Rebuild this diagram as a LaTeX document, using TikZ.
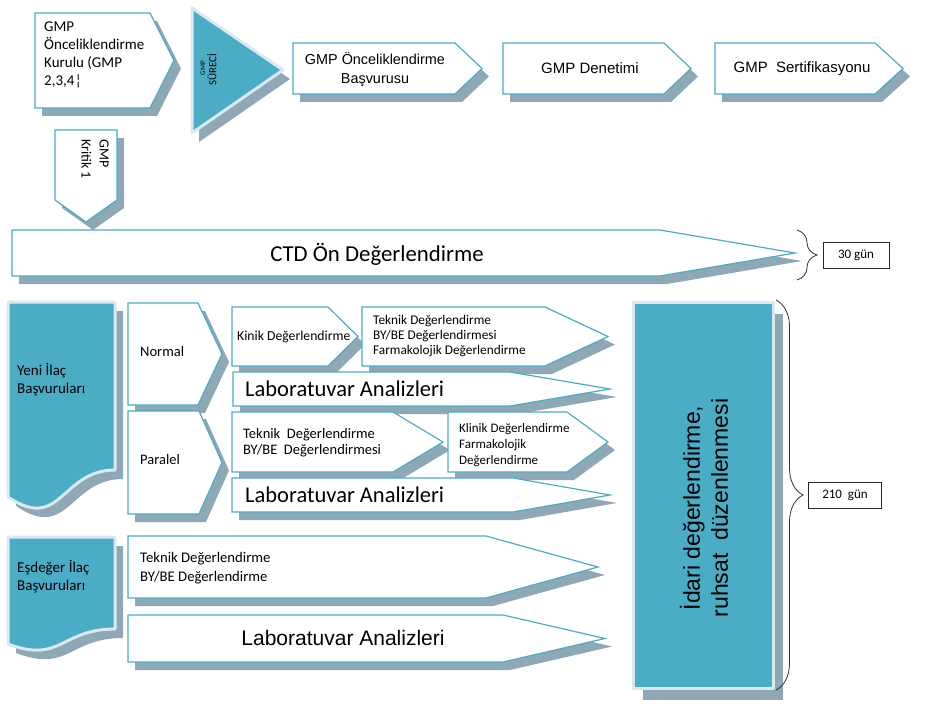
\documentclass[tikz,border=0pt]{standalone}
\usepackage{fontspec}
\setmainfont{Carlito}
\newfontfamily\arial{Liberation Sans}
\usepackage{tikz}
\usetikzlibrary{decorations.pathreplacing, positioning}

\definecolor{turkuaz}{RGB}{75,172,198}
\definecolor{golgerenk}{RGB}{142,168,181}
\definecolor{acikmavi}{RGB}{218,232,242}

\newcommand{\boyut}[2]{\fontsize{#1}{#2}\selectfont}
% ok kutusu: ad, sol, ust, duz uc, sivri uc, alt
\newcommand{\okkutu}[6]{%
  \fill[golge, shift={(7,8)}] (#2,#3) -- (#4,#3) -- (#5,{(#3+#6)/2}) -- (#4,#6) -- (#2,#6) -- cycle;
  \filldraw[kutu] (#2,#3) -- (#4,#3) -- (#5,{(#3+#6)/2}) -- (#4,#6) -- (#2,#6) -- cycle;
  \coordinate (#1) at (#5,{(#3+#6)/2});}

\begin{document}
\begin{tikzpicture}[x=1pt, y=-1pt,
  kutu/.style={fill=white, draw=turkuaz, line width=1.2pt},
  golge/.style={fill=golgerenk},
  mavi/.style={fill=turkuaz, draw=acikmavi, line width=3pt, line join=round},
  yazi/.style={inner sep=0pt, align=left, text=black},
  gun/.style={draw=black!85, line width=0.8pt, minimum height=26, inner sep=0pt, font={\boyut{13}{15}}},
  parantez/.style={decorate, decoration={brace, amplitude=#1}, line width=0.8pt, draw=black!80}]
  \useasboundingbox (0,0) rectangle (930,709);

  % GMP sureci
  \okkutu{kurulkutu}{35}{13}{150}{174}{108}
  \node[yazi, anchor=north west, font={\boyut{15}{18}}] (kurul) at (44,22) {GMP\\Önceliklendirme\\Kurulu (GMP\\2,3,4¦};

  \fill[golge, shift={(7,9)}] (192,8) -- (283,70) -- (192,133) -- cycle;
  \filldraw[mavi] (192,8) -- (283,70) -- (192,133) -- cycle;
  \node[yazi, rotate=90, font={\boyut{7}{8}}] (gmp) at (203,68) {GMP};
  \node[yazi, rotate=90, font={\boyut{11}{13}}] (surec) at (212,70) {SÜRECİ};

  \okkutu{basvurukutu}{293}{43}{455}{482}{94}
  \node[yazi, align=center, font={\arial\boyut{14.4}{19}}] (basvuru) at (375,70) {GMP Önceliklendirme\\Başvurusu};
  \okkutu{denetimkutu}{503}{43}{664}{691}{94}
  \node[yazi, font={\arial\boyut{15}{18}}] (denetim) at (590,68) {GMP Denetimi};
  \okkutu{sertifikakutu}{715}{43}{875}{903}{94}
  \node[yazi, font={\arial\boyut{15}{18}}] (sertifika) at (802,69) {GMP~ Sertifikasyonu};

  \fill[golge, shift={(7,8)}] (55,130) -- (117,130) -- (117,200) -- (86,222) -- (55,200) -- cycle;
  \filldraw[kutu] (55,130) -- (117,130) -- (117,200) -- (86,222) -- (55,200) -- cycle;
  \node[yazi, rotate=-90, anchor=north west, font={\boyut{14}{18}}] (kritik) at (109,139) {GMP\\Kritik 1};

  % CTD on degerlendirme
  \okkutu{ctdkutu}{12}{230}{660}{795}{276}
  \node[yazi, font={\boyut{22.8}{26}}] (ctd) at (377,254) {CTD Ön Değerlendirme};
  \coordinate (p30ust) at (797,230);
  \coordinate (p30alt) at (797,280);
  \draw[parantez=20] (p30ust) -- (p30alt);
  \node[gun, minimum width=66] (gun30) at (856,255) {30 gün};

  % Yeni ilac basvurulari
  \fill[golge, shift={(8,9)}] (8,302) -- (115,302) -- (115,470) .. controls (61,470) and (61,533) .. (8,497) -- cycle;
  \filldraw[mavi] (8,302) -- (115,302) -- (115,470) .. controls (61,470) and (61,533) .. (8,497) -- cycle;
  \node[yazi, anchor=west, font={\boyut{15}{18}}] (yeni) at (17,380) {Yeni İlaç\\Başvuruları};

  \okkutu{normalkutu}{128}{303}{198}{222}{405}
  \node[yazi, anchor=west, font={\boyut{14.5}{17}}] (normal) at (140,352) {Normal};
  \okkutu{paralelkutu}{128}{411}{199}{222}{514}
  \node[yazi, anchor=west, font={\boyut{14.5}{17}}] (paralel) at (140,460) {Paralel};

  \okkutu{kinikkutu}{232}{307}{328}{358}{366}
  \node[yazi, anchor=west, font={\boyut{13.7}{16}}] (kinik) at (237,337) {Kinik Değerlendirme};
  \okkutu{teknikbirkutu}{362}{307}{545}{608}{366}
  \node[yazi, anchor=west, font={\boyut{13.3}{15}}] (teknikbir) at (373,336) {Teknik Değerlendirme\\BY/BE Değerlendirmesi\\Farmakolojik Değerlendirme};
  \okkutu{labbirkutu}{233}{372}{510}{610}{406}
  \node[yazi, anchor=west, font={\boyut{22.5}{26}}] (labbir) at (245,389) {Laboratuvar Analizleri};

  \okkutu{teknikikikutu}{232}{412}{393}{443}{472}
  \node[yazi, anchor=west, font={\boyut{14.5}{16}}] (teknikiki) at (243,443) {Teknik~ Değerlendirme\\BY/BE~ Değerlendirmesi};
  \okkutu{klinikkutu}{448}{412}{567}{608}{472}
  \node[yazi, anchor=west, font={\boyut{13}{16}}] (klinik) at (459,445) {Klinik Değerlendirme\\Farmakolojik\\Değerlendirme};
  \okkutu{labikikutu}{232}{478}{513}{610}{512}
  \node[yazi, anchor=west, font={\boyut{22.5}{26}}] (labiki) at (245,495) {Laboratuvar Analizleri};

  % Esdeger ilac basvurulari
  \fill[golge, shift={(8,9)}] (8,537) -- (115,537) -- (115,629) .. controls (61,629) and (61,664) .. (8,644) -- cycle;
  \filldraw[mavi] (8,537) -- (115,537) -- (115,629) .. controls (61,629) and (61,664) .. (8,644) -- cycle;
  \node[yazi, anchor=west, font={\boyut{15}{18}}] (esdeger) at (17,577) {Eşdeğer İlaç\\Başvuruları};

  \okkutu{teknikuckutu}{128}{536}{486}{598}{598}
  \node[yazi, anchor=west, font={\boyut{14.7}{19}}] (teknikuc) at (140,568) {Teknik Değerlendirme\\BY/BE Değerlendirme};
  \okkutu{labuckutu}{128}{615}{503}{605}{662}
  \node[yazi, font={\arial\boyut{21}{24}}] (labuc) at (343,638) {Laboratuvar Analizleri};

  % Idari degerlendirme
  \fill[golge] (643,314) rectangle (783,700);
  \filldraw[mavi] (633,302) rectangle (773,688);
  \node[yazi, rotate=90, align=center, font={\arial\boyut{23}{28}}] (idari) at (704,508) {İdari değerlendirme,\\ruhsat~ düzenlenmesi};
  \coordinate (p210ust) at (776,300);
  \coordinate (p210alt) at (776,690);
  \draw[parantez=27] (p210ust) -- (p210alt);
  \node[gun, minimum width=73] (gun210) at (845,495) {210~ gün};
\end{tikzpicture}
\end{document}
